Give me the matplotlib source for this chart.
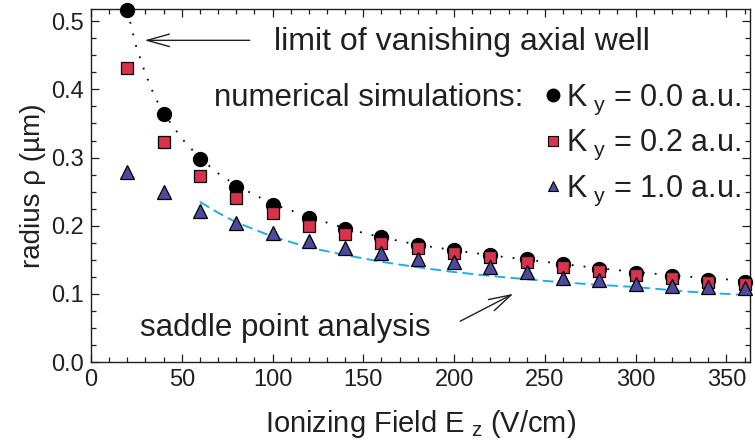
"""Bubble radius vs ionizing field: simulations and analytic limits."""

import matplotlib

matplotlib.use("Agg")
import matplotlib.pyplot as plt
from matplotlib.lines import Line2D
from matplotlib.ticker import FormatStrFormatter, MultipleLocator

plt.rcParams["font.family"] = ["Liberation Sans", "DejaVu Sans"]
plt.rcParams["mathtext.default"] = "regular"

# ---------------------------------------------------------------------------
# Data
# ---------------------------------------------------------------------------

field = [20, 40, 60, 80, 100, 120, 140, 160, 180, 200,
         220, 240, 260, 280, 300, 320, 340, 360]

rho_k00 = [0.516, 0.364, 0.298, 0.257, 0.231, 0.211, 0.195, 0.183, 0.171,
           0.165, 0.157, 0.151, 0.144, 0.136, 0.130, 0.126, 0.121, 0.117]
rho_k02 = [0.431, 0.323, 0.273, 0.240, 0.219, 0.200, 0.188, 0.174, 0.168,
           0.160, 0.154, 0.147, 0.139, 0.133, 0.127, 0.124, 0.118, 0.115]
rho_k10 = [0.279, 0.249, 0.222, 0.204, 0.189, 0.177, 0.168, 0.160, 0.151,
           0.147, 0.139, 0.132, 0.124, 0.120, 0.115, 0.112, 0.110, 0.109]

# limit of vanishing axial well (dotted)
limit_x = [20, 25, 30, 35, 40, 50, 60, 70, 80, 100, 120, 140, 160, 180,
           200, 225, 250, 275, 300, 330, 362]
limit_y = [0.516, 0.462, 0.423, 0.390, 0.365, 0.328, 0.299, 0.277, 0.259,
           0.232, 0.213, 0.196, 0.183, 0.172, 0.164, 0.155, 0.147, 0.139,
           0.132, 0.125, 0.119]

# saddle point analysis (dashed)
saddle_x = [60, 70, 80, 100, 120, 140, 160, 180, 200, 225, 250, 275, 300,
            330, 362]
saddle_y = [0.235, 0.219, 0.205, 0.184, 0.168, 0.157, 0.147, 0.139, 0.132,
            0.125, 0.119, 0.114, 0.110, 0.103, 0.098]

series_labels = [r"K$_{\ \mathregular{y}}$ = 0.0 a.u.",
                 r"K$_{\ \mathregular{y}}$ = 0.2 a.u.",
                 r"K$_{\ \mathregular{y}}$ = 1.0 a.u."]

# ---------------------------------------------------------------------------
# Figure
# ---------------------------------------------------------------------------

TEXT = "#231f20"
RED = "#d8324c"
PURPLE = "#4b4a9c"
CYAN = "#1eaee8"

fig = plt.figure(figsize=(7.55, 4.45), dpi=100)
ax = fig.add_axes([0.1205, 0.1865, 0.9934 - 0.1205, 0.9798 - 0.1865])

ax.plot(limit_x, limit_y, color="black", lw=1.3,
        linestyle=(0, (1, 5.6)), zorder=2)
ax.plot(saddle_x, saddle_y, color=CYAN, lw=1.4,
        linestyle=(0, (5.5, 2.8)), zorder=2)

ax.plot(field, rho_k00, "o", ms=10, color="black", mec="black",
        zorder=3, clip_on=False)
ax.plot(field, rho_k02, "s", ms=8.5, color=RED, mec="black", mew=0.9,
        zorder=4, clip_on=False)
ax.plot(field, rho_k10, "^", ms=9.5, color=PURPLE, mec="black", mew=0.9,
        zorder=5, clip_on=False)

ax.set_xlim(0, 363)
ax.set_ylim(0, 0.518)
ax.xaxis.set_major_locator(MultipleLocator(50))
ax.xaxis.set_minor_locator(MultipleLocator(10))
ax.yaxis.set_major_locator(MultipleLocator(0.1))
ax.yaxis.set_minor_locator(MultipleLocator(0.025))
ax.yaxis.set_major_formatter(FormatStrFormatter("%.1f"))
ax.tick_params(which="both", direction="in", top=True, right=True,
               colors=TEXT, labelsize=17, width=0.9)
ax.tick_params(which="major", length=6, pad=5)
ax.tick_params(which="minor", length=3.5)
for sp in ax.spines.values():
    sp.set_linewidth(1.0)
    sp.set_color(TEXT)

ax.set_xlabel(r"Ionizing Field E$_{\ \mathregular{z}}$ (V/cm)", fontsize=21,
              color=TEXT, labelpad=12)
ax.set_ylabel("radius ρ (µm)", fontsize=20, color=TEXT, labelpad=4)

# annotations
ax.annotate("", xy=(28, 0.472), xytext=(89, 0.472),
            arrowprops=dict(arrowstyle="->,head_length=1.6,head_width=0.45",
                            lw=1.0, color=TEXT))
ax.text(101, 0.469, "limit of vanishing axial well", fontsize=23,
        color=TEXT, ha="left", va="center")

ax.annotate("", xy=(234, 0.102), xytext=(202, 0.058),
            arrowprops=dict(arrowstyle="->,head_length=1.6,head_width=0.45",
                            lw=1.0, color=TEXT))
ax.text(27, 0.050, "saddle point analysis", fontsize=22.5,
        color=TEXT, ha="left", va="center")

ax.text(68, 0.388, "numerical simulations:", fontsize=22.5,
        color=TEXT, ha="left", va="center")

handles = [
    Line2D([], [], ls="none", marker="o", ms=9, color="black"),
    Line2D([], [], ls="none", marker="s", ms=7, color=RED, mec="black",
           mew=0.8),
    Line2D([], [], ls="none", marker="^", ms=7.5, color=PURPLE, mec="black",
           mew=0.8),
]
leg = ax.legend(handles, series_labels, loc="upper right",
                bbox_to_anchor=(0.99, 0.80), frameon=False, fontsize=22,
                handlelength=0.5, handletextpad=0.15, labelspacing=0.37,
                borderpad=0, borderaxespad=0.1)
for t in leg.get_texts():
    t.set_color(TEXT)

fig.savefig("out.png", dpi=100)
